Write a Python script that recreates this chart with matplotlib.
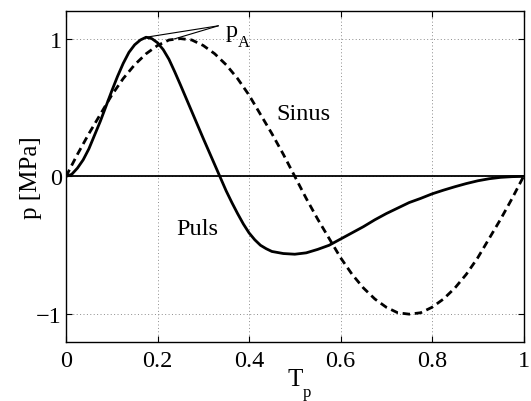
import matplotlib
matplotlib.use("Agg")
import matplotlib.pyplot as plt

plt.rcParams["font.family"] = ["Liberation Serif", "DejaVu Serif"]

# values
t_sinus = [i / 40 for i in range(41)]
p_sinus = [0.00, 0.16, 0.31, 0.45, 0.59, 0.71, 0.81, 0.89, 0.95, 0.99,
           1.00, 0.99, 0.95, 0.89, 0.81, 0.71, 0.59, 0.45, 0.31, 0.16,
           0.00, -0.16, -0.31, -0.45, -0.59, -0.71, -0.81, -0.89, -0.95, -0.99,
           -1.00, -0.99, -0.95, -0.89, -0.81, -0.71, -0.59, -0.45, -0.31, -0.16,
           0.00]

t_puls = [0.0, 0.0125, 0.025, 0.0375, 0.05, 0.0625, 0.075, 0.0875, 0.1, 0.1125,
          0.125, 0.1375, 0.15, 0.1625, 0.175, 0.1875, 0.2, 0.2125, 0.225, 0.2375,
          0.25, 0.275, 0.3, 0.325, 0.35, 0.3625, 0.375, 0.3875, 0.4, 0.4125,
          0.425, 0.4375, 0.45, 0.475, 0.5, 0.525, 0.55, 0.575, 0.6, 0.625,
          0.65, 0.675, 0.7, 0.725, 0.75, 0.775, 0.8, 0.825, 0.85, 0.875,
          0.9, 0.925, 0.95, 0.975, 1.0]
p_puls = [0.00, 0.015, 0.06, 0.12, 0.20, 0.30, 0.40, 0.51, 0.62, 0.725,
          0.82, 0.90, 0.955, 0.99, 1.01, 1.00, 0.97, 0.92, 0.85, 0.76,
          0.665, 0.47, 0.275, 0.085, -0.105, -0.19, -0.27, -0.345, -0.41, -0.46,
          -0.50, -0.525, -0.545, -0.56, -0.565, -0.555, -0.53, -0.50, -0.455, -0.41,
          -0.365, -0.315, -0.27, -0.23, -0.19, -0.16, -0.127, -0.10, -0.075, -0.052,
          -0.032, -0.017, -0.007, -0.002, 0.00]

x_ticks = [0, 0.2, 0.4, 0.6, 0.8, 1]
x_ticklabels = ["0", "0.2", "0.4", "0.6", "0.8", "1"]
y_ticks = [-1, 0, 1]
y_ticklabels = ["\u22121", "0", "1"]

fig = plt.figure(figsize=(5.31, 4.02), dpi=100)
ax = fig.add_axes([0.1243, 0.1475, 0.8617, 0.8225])

ax.axhline(0, color="black", lw=1.3, zorder=2)
ax.plot(t_puls, p_puls, color="black", lw=2.0, zorder=3,
        solid_joinstyle="round")
line_s, = ax.plot(t_sinus, p_sinus, color="black", lw=2.0, zorder=3)
line_s.set_dashes([2.7, 1.7])

# p_A pointer lines
i_peak = p_puls.index(max(p_puls))
ax.annotate("", xy=(t_puls[i_peak], p_puls[i_peak]), xytext=(0.333, 1.093),
            arrowprops=dict(arrowstyle="-", lw=0.8, color="black",
                            shrinkA=0, shrinkB=0))
ax.annotate("", xy=(0.236, 0.997), xytext=(0.333, 1.093),
            arrowprops=dict(arrowstyle="-", lw=0.8, color="black",
                            shrinkA=0, shrinkB=0))
ax.text(0.349, 1.02, "p", fontsize=17.5, va="baseline")
ax.text(0.376, 0.946, "A", fontsize=12, va="baseline")
ax.text(0.459, 0.42, "Sinus", fontsize=17.5, va="baseline")
ax.text(0.242, -0.417, "Puls", fontsize=17.5, va="baseline")

ax.set_xlim(0, 1)
ax.set_ylim(-1.2, 1.2)
ax.set_xticks(x_ticks)
ax.set_xticklabels(x_ticklabels)
ax.set_yticks(y_ticks)
ax.set_yticklabels(y_ticklabels)
ax.tick_params(direction="in", length=4, width=0.8, top=True, right=True,
               labelsize=17.5)
ax.tick_params(axis="x", pad=6)
ax.tick_params(axis="y", pad=3)
ax.grid(True, color="0.55", linestyle=(0, (1, 2.5)), lw=0.7)
for s in ax.spines.values():
    s.set_linewidth(1.0)

# x label "T" with a subscript p set below it (cut by the lower edge, as in the source)
ax.set_xlabel("T", fontsize=18, labelpad=-2)
fig.text(303 / 531, 1 - 397 / 402, "p", fontsize=12, va="baseline")
ax.set_ylabel("p [MPa]", fontsize=18, labelpad=-4)

fig.savefig("out.png", dpi=100)
